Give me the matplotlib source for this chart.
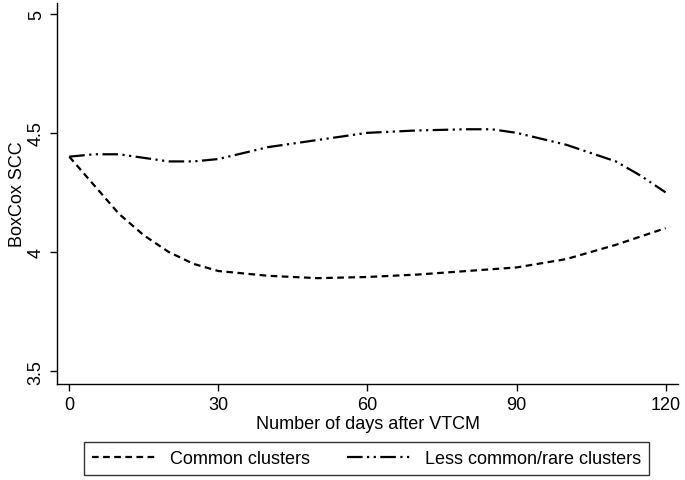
import matplotlib.pyplot as plt
import numpy as np

plt.rcParams['font.family'] = ['Liberation Sans', 'DejaVu Sans']

# values
days_common = [0, 5, 10, 15, 20, 25, 30, 40, 50, 60, 70, 80, 90, 100, 110, 120]
scc_common = [4.40, 4.28, 4.16, 4.07, 4.00, 3.95, 3.92, 3.90, 3.89, 3.895,
              3.905, 3.92, 3.935, 3.97, 4.03, 4.10]

days_rare = [0, 5, 10, 15, 20, 25, 30, 40, 50, 60, 70, 80, 85, 90, 100, 110, 115, 120]
scc_rare = [4.40, 4.41, 4.41, 4.395, 4.38, 4.38, 4.39, 4.44, 4.47, 4.50,
            4.51, 4.515, 4.515, 4.50, 4.45, 4.38, 4.32, 4.25]

x_ticks = [0, 30, 60, 90, 120]
y_ticks = [3.5, 4, 4.5, 5]
y_labels = ['3.5', '4', '4.5', '5']

fs = 13

fig = plt.figure(figsize=(6.85, 4.81), dpi=100)
ax = fig.add_axes([0.0837, 0.2002, 0.9061, 0.7915])

l1, = ax.plot(days_common, scc_common, color='black', lw=1.6,
              linestyle=(0, (3, 2)), label='Common clusters')
l2, = ax.plot(days_rare, scc_rare, color='black', lw=1.6,
              linestyle=(0, (7, 2, 1, 2, 1, 2)), label='Less common/rare clusters')

ax.set_xlim(-2.4, 122.5)
ax.set_ylim(3.447, 5.045)
ax.set_xticks(x_ticks)
ax.set_yticks(y_ticks)
ax.set_yticklabels(y_labels, rotation=90, va='center')
ax.tick_params(direction='out', length=5, width=1, labelsize=fs, pad=4)

for side in ['top', 'right']:
    ax.spines[side].set_visible(False)
for side in ['left', 'bottom']:
    ax.spines[side].set_linewidth(1)

ax.set_xlabel('Number of days after VTCM', fontsize=fs, labelpad=1)
ax.set_ylabel('BoxCox SCC', fontsize=fs, labelpad=1)

leg = fig.legend(handles=[l1, l2], loc='lower left', ncol=2, mode='expand',
                 bbox_to_anchor=(84 / 685, 1 - 476 / 481, 565 / 685, 34 / 481),
                 fancybox=False, edgecolor='black', fontsize=fs,
                 handlelength=3.6, handletextpad=0.7, borderpad=0.45,
                 borderaxespad=0, columnspacing=2.0)
leg.get_frame().set_linewidth(1)

fig.savefig('out.png', dpi=100)
